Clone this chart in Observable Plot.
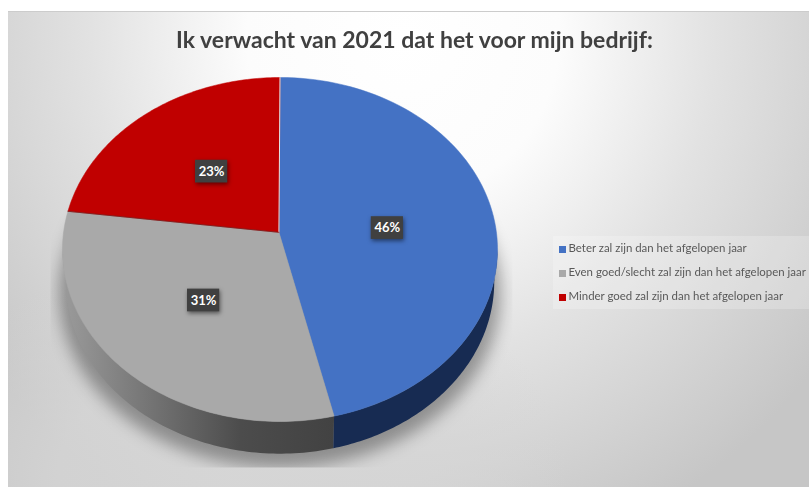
<!DOCTYPE html>
<html><head><meta charset="utf-8">
<script src="https://cdn.jsdelivr.net/npm/d3@7"></script>
<script src="https://cdn.jsdelivr.net/npm/@observablehq/plot@0.6"></script>
<style>
html,body{margin:0;background:#fff}
#wrap{position:relative;width:809px;height:487px;overflow:hidden;background:#fff;font-family:Lato,sans-serif}
#bg{position:absolute;left:8px;top:11px;right:0;bottom:0;border-top:1px solid #ccc;
 background:
  radial-gradient(ellipse 330px 240px at 230px 470px,rgba(214,214,214,.95) 0%,rgba(214,214,214,.75) 55%,rgba(214,214,214,0) 100%),
  radial-gradient(ellipse 520px 540px at 395px 25px,#fff 0%,#fcfcfc 30%,#e2e2e2 60%,#c6c6c6 100%)}
#title{position:absolute;left:0;top:25px;width:829px;text-align:center;font-weight:700;font-size:23px;color:#404040;white-space:nowrap;filter:blur(.4px)}
#legend{position:absolute;left:553px;top:236px;width:256px;height:73px;background:rgba(255,255,255,.22);font-size:11.45px;color:#595959}
#legend div{position:absolute;left:6px;white-space:nowrap;height:24px;line-height:24px;filter:blur(.3px)}
#legend i{display:inline-block;width:7px;height:7px;margin-right:2.5px;vertical-align:-0.5px}
svg{position:absolute;left:0;top:0}
</style></head><body>
<div id="wrap"><div id="bg"></div><div id="title"></div><div id="legend"></div></div>
<script>
const titleText = "Ik verwacht van 2021 dat het voor mijn bedrijf:";
const categories = ["Beter zal zijn dan het afgelopen jaar","Even goed/slecht zal zijn dan het afgelopen jaar","Minder goed zal zijn dan het afgelopen jaar"];
const values = [46, 31, 23];
const labels = ["46%","31%","23%"];
const colors = ["#4472c4","#a9a9a9","#c00000"];

// perspective of the tilted disc: the apex lies above the centre of the ellipse
const apex = [-0.005, 0.1];
const depth = 0.187;
const rad = d => d * Math.PI / 180;
const warp = th => {               // share angle -> angle on the ellipse
  const k = th > 180 ? 0.905 : 1;
  const t = 2 * Math.atan(Math.tan(rad(th) / 2) * k);
  return t < 0 ? t + 2 * Math.PI : t;
};
const pt = t => [Math.sin(t), Math.cos(t)];
const total = d3.sum(values);
let acc = 0;
const slices = values.map((v, i) => {
  const a0 = acc / total * 360; acc += v; const a1 = acc / total * 360;
  const t0 = a0 === 0 ? 0 : warp(a0), t1 = a1 === 360 ? 2 * Math.PI : warp(a1);
  return {i, t0, t1};
});
const steps = (a, b) => { const n = 90; return d3.range(n + 1).map(k => a + (b - a) * k / n); };
const toRow = ([x, y]) => ({x, y});
const face = s => [apex, ...steps(s.t0, s.t1).map(pt), apex].map(toRow);
const wall = (a, b) => {
  const top = steps(a, b).map(pt);
  const low = top.slice().reverse().map(([x, y]) => [x * .985, y - depth]);
  return [...top, ...low].map(toRow);
};
const ring = (cx, cy, k) => steps(0, 2 * Math.PI).map(pt).map(([x, y]) => ({x: cx + x * k, y: cy + y * k}));
const labelRows = slices.map(s => {
  const m = pt((s.t0 + s.t1) / 2);
  return {label: labels[s.i], x: apex[0] + (m[0] - apex[0]) * .5, y: apex[1] + (m[1] - apex[1]) * .5 + .012};
});
const bw = 0.074, bh = 0.066;

const defs = () => {
  const ns = "http://www.w3.org/2000/svg";
  const d = document.createElementNS(ns, "defs");
  d.innerHTML = `<linearGradient id="greyWall" gradientUnits="userSpaceOnUse" x1="64" y1="0" x2="335" y2="0">
    <stop offset="0" stop-color="#9a9a9a"/><stop offset=".3" stop-color="#767676"/><stop offset=".65" stop-color="#4c4c4c"/><stop offset="1" stop-color="#424242"/></linearGradient>
    <clipPath id="shadowClip" clipPathUnits="userSpaceOnUse"><rect x="50" y="200" width="462" height="267"/></clipPath>`;
  return d;
};
const styled = css => (index, scales, values, dimensions, context, next) => {
  const g = next(index, scales, values, dimensions, context);
  g.style.cssText += css;
  return g;
};

const chart = Plot.plot({
  width: 809, height: 487, margin: 0,
  style: {background: "transparent"},
  x: {domain: [-1, 1], range: [62, 497], axis: null},
  y: {domain: [-1, 1], range: [421, 77], axis: null},
  marks: [
    defs,
    Plot.line(ring(0, -depth * 1.35, 1.015), {x: "x", y: "y", fill: "#000", fillOpacity: .34, stroke: "none",
      render: styled(";filter:blur(8px);clip-path:url(#shadowClip)")}),
    Plot.line(wall(slices[1].t0, 1.5 * Math.PI), {x: "x", y: "y", fill: "url(#greyWall)", stroke: "none"}),
    Plot.line(wall(Math.PI / 2, slices[0].t1), {x: "x", y: "y", fill: "#172b52", stroke: "none"}),
    ...slices.map(s => Plot.line(face(s), {x: "x", y: "y", fill: colors[s.i], stroke: colors[s.i], strokeWidth: .5})),
    Plot.line([apex, pt(0)].map(toRow), {x: "x", y: "y", stroke: "#e6e6e6", strokeWidth: 1}),
    Plot.line([apex, pt(slices[2].t0)].map(toRow), {x: "x", y: "y", stroke: "#6e2020", strokeWidth: .7}),
    Plot.rect(labelRows, {x1: d => d.x - bw, x2: d => d.x + bw, y1: d => d.y - bh, y2: d => d.y + bh, fill: "#404040",
      render: styled(";filter:drop-shadow(1px 2px 2px rgba(0,0,0,.5))")}),
    Plot.text(labelRows, {x: "x", y: "y", text: "label", fill: "#fff", fontSize: 13, fontWeight: 700, fontFamily: "Lato"})
  ]
});
document.getElementById("wrap").appendChild(chart);
document.getElementById("title").textContent = titleText;
const legend = document.getElementById("legend");
categories.forEach((c, i) => {
  const row = document.createElement("div");
  row.style.top = (i * 24) + "px";
  const sw = document.createElement("i");
  sw.style.background = colors[i];
  row.appendChild(sw);
  row.appendChild(document.createTextNode(c));
  legend.appendChild(row);
});
</script></body></html>
